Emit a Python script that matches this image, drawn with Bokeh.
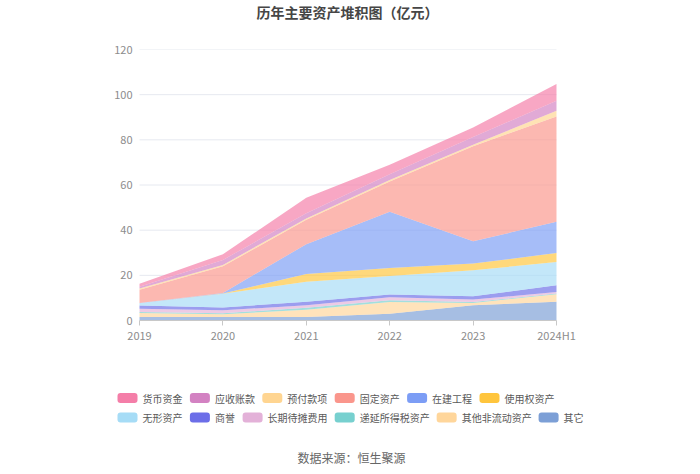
from bokeh.plotting import figure
from bokeh.models import Range1d, FixedTicker, BoxAnnotation
from bokeh.layouts import column
from bokeh.core.properties import value
from bokeh.embed import file_html
from bokeh.resources import INLINE

# ---------------- data (亿元) ----------------
years = ["2019", "2020", "2021", "2022", "2023", "2024H1"]

cash = [1.3, 2.5, 6.9, 4.2, 4.3, 7.4]            # 货币资金
receivable = [0.8, 2.2, 2.3, 2.6, 3.4, 4.4]      # 应收账款
prepay = [0.6, 0.6, 0.6, 0.7, 0.6, 2.6]          # 预付款项
fixed = [5.8, 11.8, 10.8, 13.4, 42.1, 46.6]      # 固定资产
construction = [0.2, 0.2, 13.2, 24.8, 9.9, 13.8] # 在建工程
rou = [0.0, 0.2, 3.4, 3.6, 3.0, 4.0]             # 使用权资产
intangible = [1.0, 6.0, 8.9, 8.2, 11.5, 10.3]    # 无形资产
goodwill = [1.4, 1.3, 1.5, 1.2, 1.4, 3.0]        # 商誉
lt_prepaid = [1.4, 1.3, 1.2, 1.3, 1.1, 0.6]      # 长期待摊费用
deferred_tax = [0.5, 0.4, 0.8, 0.8, 0.4, 0.4]    # 递延所得税资产
other_noncur = [1.8, 1.3, 3.3, 5.2, 1.1, 3.3]    # 其他非流动资产
others = [1.5, 1.5, 1.5, 3.0, 6.7, 8.3]          # 其它

legend_names = ["货币资金", "应收账款", "预付款项", "固定资产", "在建工程", "使用权资产",
                "无形资产", "商誉", "长期待摊费用", "递延所得税资产", "其他非流动资产", "其它"]
series = [cash, receivable, prepay, fixed, construction, rou,
          intangible, goodwill, lt_prepaid, deferred_tax, other_noncur, others]
colors = ["#f47ea8", "#d382c2", "#ffd591", "#fa968c", "#7c9df5", "#ffc53d",
          "#a6dcf6", "#6c6ee8", "#e3b1d8", "#77d0cf", "#ffd69b", "#7c9fd6"]

y_ticks = [0, 20, 40, 60, 80, 100, 120]
Y_MAX = 120

FONT = "Noto Sans CJK SC"
W = 700
# page-pixel layout
BL, BR = 100, 600                    # shared frame edges of all three figures
X0, X5, FT, FB = 139, 556, 49, 320   # first/last category and plot top/bottom
TOP_H, MAIN_H, BOT_H = 41, 339, 94
n = len(years)
unit = (X5 - X0) / (n - 1)

# ---------------- title figure ----------------
pt = figure(width=W, height=TOP_H, x_range=Range1d(BL, BR), y_range=Range1d(TOP_H, 0),
            output_backend="svg", toolbar_location=None, min_border=0,
            min_border_left=BL, min_border_right=W - BR)
pt.axis.visible = False
pt.grid.visible = False
pt.outline_line_color = None
pt.text(x=[347], y=[11], text=["历年主要资产堆积图（亿元）"], text_align="center",
        text_baseline="middle", text_font=value(FONT), text_font_style="bold",
        text_font_size="14px", text_color="#464646")

# ---------------- main chart ----------------
xs = list(range(n))
data = {"x": xs}
for name, vals in zip(legend_names, series):
    data[name] = vals

p = figure(width=W, height=MAIN_H,
           x_range=Range1d(-(X0 - BL) / unit, (n - 1) + (BR - X5) / unit),
           y_range=Range1d(0, Y_MAX),
           output_backend="svg", toolbar_location=None,
           min_border_left=BL, min_border_right=W - BR, min_border_top=FT - TOP_H,
           min_border_bottom=TOP_H + MAIN_H - FB)
p.outline_line_color = None

# horizontal grid lines limited to the category span
grid_y = y_ticks[1:]
p.segment(x0=[0] * len(grid_y), x1=[n - 1] * len(grid_y), y0=grid_y, y1=grid_y,
          line_color="#e6e9f0", line_width=1, level="underlay")

stack_order = list(reversed(legend_names))
stack_colors = list(reversed(colors))
p.varea_stack(stackers=stack_order, x="x", color=stack_colors, fill_alpha=0.68, source=data)

p.xaxis.ticker = FixedTicker(ticks=xs)
p.xaxis.bounds = (0, n - 1)
p.xaxis.major_label_overrides = {i: y for i, y in enumerate(years)}
p.xaxis.axis_line_color = "#c8c8c8"
p.xaxis.major_tick_line_color = "#c8c8c8"
p.xaxis.major_tick_out = 5
p.xaxis.major_tick_in = 0
p.xaxis.minor_tick_line_color = None
p.xaxis.major_label_text_color = "#8c8c8c"
p.xaxis.major_label_text_font = FONT
p.xaxis.major_label_text_font_size = "11px"
p.xaxis.major_label_standoff = 1

p.yaxis.ticker = FixedTicker(ticks=y_ticks)
p.yaxis.axis_line_color = None
p.yaxis.major_tick_line_color = None
p.yaxis.major_tick_out = 0
p.yaxis.minor_tick_line_color = None
p.yaxis.major_label_text_color = "#8c8c8c"
p.yaxis.major_label_text_font = FONT
p.yaxis.major_label_text_font_size = "11px"
p.yaxis.major_label_standoff = -(X0 - 7 - BL)

p.xgrid.visible = False
p.ygrid.visible = False

# ---------------- legend + source figure ----------------
Y_OFF = TOP_H + MAIN_H
pb = figure(width=W, height=BOT_H, x_range=Range1d(BL, BR),
            y_range=Range1d(Y_OFF + BOT_H, Y_OFF),
            output_backend="svg", toolbar_location=None, min_border=0,
            min_border_left=BL, min_border_right=W - BR)
pb.axis.visible = False
pb.grid.visible = False
pb.outline_line_color = None

rows = [legend_names[:6], legend_names[6:]]
row_y = [397.5, 417]
char_w = 9.85
k = 0
lx, ly, lt = [], [], []
for r, names in enumerate(rows):
    x = 117
    for name in names:
        pb.add_layout(BoxAnnotation(left=x, right=x + 20, top=row_y[r] - 5, bottom=row_y[r] + 5,
                                    fill_color=colors[k], fill_alpha=1.0, line_color=None,
                                    border_radius=3))
        lx.append(x + 25)
        ly.append(row_y[r])
        lt.append(name)
        x += 25 + len(name) * char_w + 8
        k += 1
pb.text(x=lx, y=ly, text=lt, text_align="left", text_baseline="middle",
        text_font=value(FONT), text_font_size="10px", text_color="#595959")

pb.text(x=[351], y=[457], text=["数据来源：恒生聚源"], text_align="center",
        text_baseline="middle", text_font=value(FONT), text_font_size="12px",
        text_color="#666666")

layout = column(pt, p, pb)
open("out.html", "w").write(file_html(layout, INLINE))
